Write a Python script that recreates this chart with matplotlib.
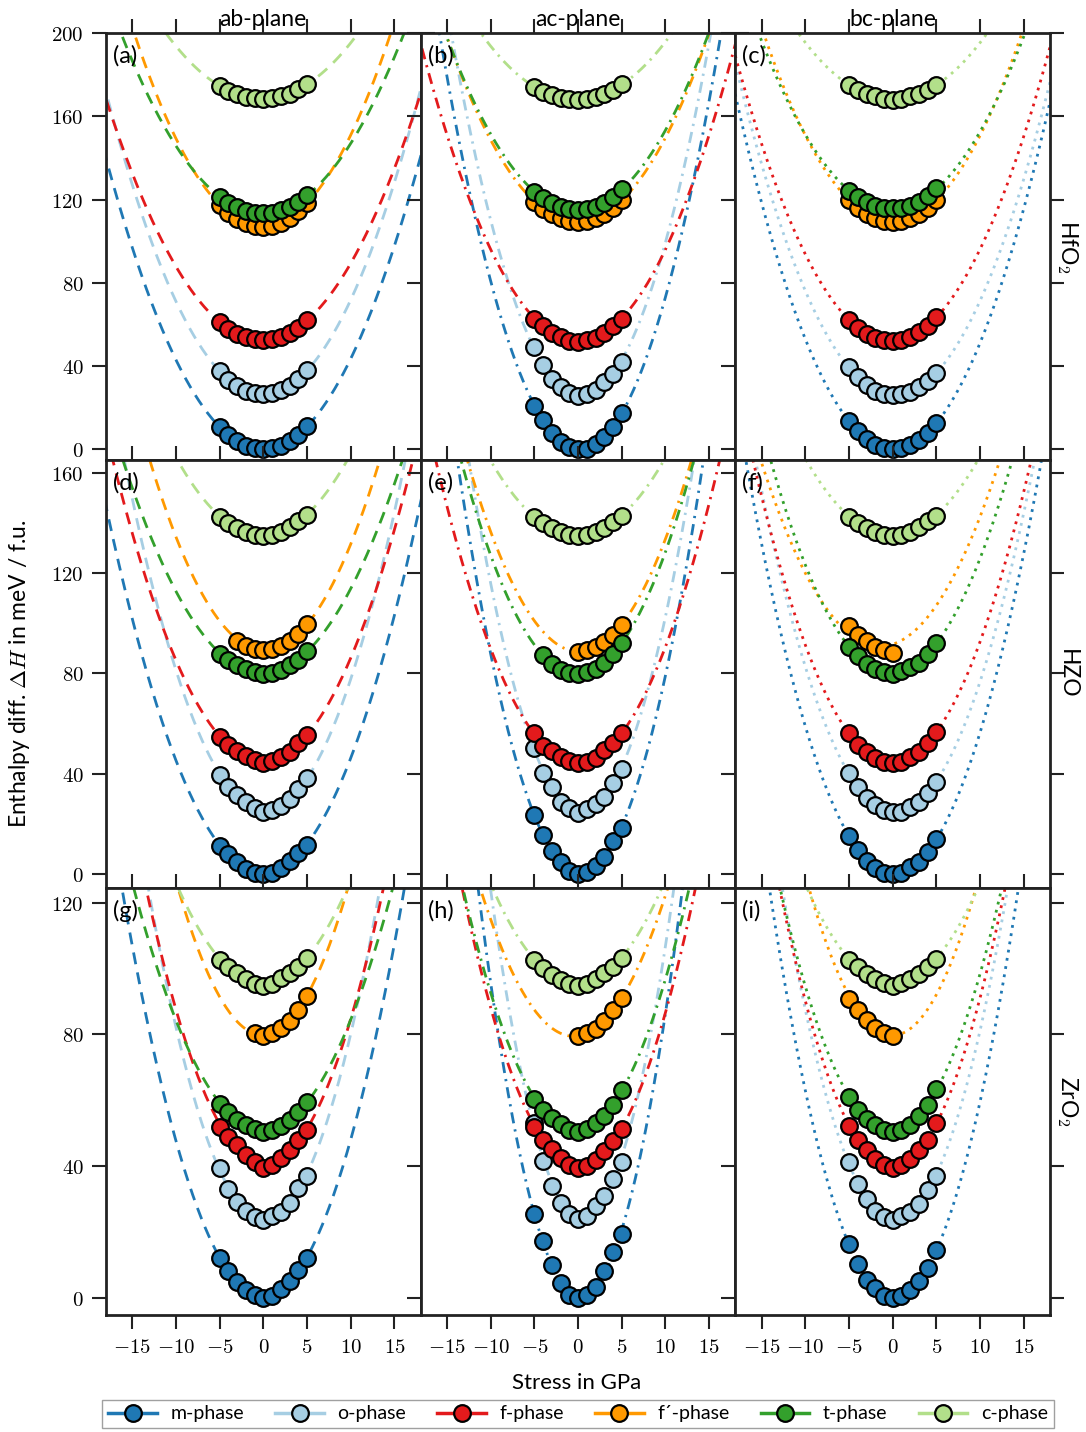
import numpy as np
import matplotlib
matplotlib.use("Agg")
import matplotlib.pyplot as plt
from matplotlib.lines import Line2D
from matplotlib.ticker import FuncFormatter

plt.rcParams['font.family'] = ['Lato', 'DejaVu Sans']
plt.rcParams['mathtext.fontset'] = 'cm'

# stress values of the computed points (GPa)
stress = [-5, -4, -3, -2, -1, 0, 1, 2, 3, 4, 5]

phases = ['m', 'o', 'f', "f'", 't', 'c']
phase_labels = ['m-phase', 'o-phase', 'f-phase', 'f\u00b4-phase', 't-phase', 'c-phase']
phase_colors = ['#1f78b4', '#a6cee3', '#e31a1c', '#ff9900', '#33a02c', '#b2df8a']

N = None
# enthalpy differences in meV / f.u., one dict per panel
hfo2_ab = {
    'm':  [10.6, 6.8, 3.8, 1.7, 0.4, 0.0, 0.4, 1.7, 3.9, 7.0, 11.0],
    'o':  [37.5, 33.4, 30.3, 28.2, 26.9, 26.4, 26.9, 28.3, 30.5, 33.6, 38.0],
    'f':  [61.0, 57.9, 55.5, 53.9, 52.8, 52.4, 52.8, 54.0, 55.8, 58.5, 62.0],
    "f'": [117.3, 113.6, 110.8, 108.8, 107.4, 107.0, 107.4, 108.9, 111.2, 114.3, 118.3],
    't':  [121.3, 118.4, 116.2, 114.7, 113.7, 113.4, 113.7, 114.8, 116.5, 118.9, 122.0],
    'c':  [174.5, 172.3, 170.6, 169.4, 168.7, 168.5, 168.8, 169.6, 170.9, 172.9, 175.5],
}
hfo2_ac = {
    'm':  [21.0, 14.3, 7.9, 3.6, 0.9, 0.0, 0.2, 2.5, 6.0, 10.5, 17.2],
    'o':  [49.2, 40.4, 34.0, 29.7, 26.8, 25.6, 26.4, 28.7, 32.4, 36.4, 42.0],
    'f':  [62.8, 59.1, 56.1, 54.0, 52.1, 51.6, 52.4, 53.7, 56.1, 59.1, 62.8],
    "f'": [118.9, 115.4, 112.8, 111.0, 109.8, 109.3, 109.6, 110.9, 112.9, 115.9, 119.7],
    't':  [123.7, 120.6, 118.2, 116.5, 115.4, 115.0, 115.3, 116.5, 118.5, 121.3, 125.0],
    'c':  [174.0, 171.8, 170.2, 169.0, 168.3, 168.0, 168.3, 169.1, 170.5, 172.5, 175.5],
}
hfo2_bc = {
    'm':  [13.5, 8.7, 4.9, 2.2, 0.5, 0.0, 0.5, 2.0, 4.5, 8.0, 12.5],
    'o':  [39.4, 34.5, 30.8, 28.2, 26.6, 26.0, 26.4, 27.6, 29.8, 32.8, 36.5],
    'f':  [62.0, 58.4, 55.6, 53.6, 52.4, 52.0, 52.5, 53.9, 56.2, 59.4, 63.5],
    "f'": [119.7, 116.0, 113.2, 111.1, 109.7, 109.3, 109.7, 111.1, 113.2, 116.0, 119.7],
    't':  [124.2, 121.1, 118.7, 117.0, 116.0, 115.7, 116.0, 117.1, 118.9, 121.6, 125.3],
    'c':  [175.0, 172.6, 170.8, 169.5, 168.5, 168.0, 168.5, 169.5, 170.8, 172.6, 175.0],
}
hzo_ab = {
    'm':  [11.0, 7.8, 4.8, 2.0, 0.5, 0.0, 0.4, 2.3, 5.0, 8.2, 11.5],
    'o':  [39.4, 34.7, 31.4, 28.8, 26.1, 24.8, 25.5, 27.1, 29.7, 33.7, 38.1],
    'f':  [54.4, 51.3, 49.1, 47.0, 45.4, 44.1, 45.1, 46.7, 48.7, 52.0, 55.3],
    "f'": [N, N, 92.8, 90.9, 89.8, 89.4, 89.8, 91.0, 92.8, 95.6, 99.6],
    't':  [87.6, 85.2, 83.2, 81.9, 80.5, 79.6, 80.1, 81.2, 83.2, 85.5, 88.9],
    'c':  [142.5, 140.0, 138.0, 136.4, 135.3, 134.9, 135.3, 136.5, 138.3, 140.6, 143.3],
}
hzo_ac = {
    'm':  [23.5, 15.5, 9.0, 4.8, 1.3, 0.0, 0.9, 3.1, 6.6, 12.9, 18.2],
    'o':  [50.4, 40.3, 34.5, 28.8, 26.1, 24.4, 25.7, 27.9, 30.8, 36.1, 41.7],
    'f':  [56.0, 50.9, 49.1, 46.7, 45.1, 44.1, 44.7, 46.3, 49.4, 52.0, 56.0],
    "f'": [N, N, N, N, N, 88.5, 89.2, 90.5, 92.5, 95.1, 99.1],
    't':  [N, 87.2, 83.8, 81.4, 80.1, 79.6, 80.5, 81.8, 84.1, 87.6, 92.1],
    'c':  [142.2, 139.8, 137.8, 136.3, 135.3, 134.9, 135.3, 136.4, 138.1, 140.3, 142.9],
}
hzo_bc = {
    'm':  [15.2, 9.7, 5.3, 2.3, 0.5, 0.0, 0.4, 2.7, 4.7, 8.6, 13.7],
    'o':  [40.1, 34.5, 30.1, 27.5, 25.5, 24.5, 24.8, 26.5, 28.8, 32.4, 36.7],
    'f':  [56.0, 51.3, 48.7, 46.4, 44.7, 44.1, 44.7, 46.7, 48.7, 52.3, 56.6],
    "f'": [98.8, 95.1, 92.9, 90.5, 89.2, 88.2, N, N, N, N, N],
    't':  [90.5, 86.8, 83.8, 81.8, 80.5, 79.9, 80.9, 82.5, 84.1, 87.8, 92.1],
    'c':  [142.5, 140.0, 138.0, 136.4, 135.3, 134.9, 135.3, 136.5, 138.3, 140.6, 142.9],
}
zro2_ab = {
    'm':  [12.1, 8.0, 4.7, 2.4, 0.9, 0.0, 0.6, 2.6, 5.0, 8.3, 12.1],
    'o':  [39.4, 33.0, 29.0, 26.5, 24.5, 23.7, 24.7, 26.2, 28.8, 33.3, 37.1],
    'f':  [51.9, 48.8, 46.5, 43.5, 41.1, 39.4, 40.4, 42.5, 44.8, 47.8, 51.1],
    "f'": [N, N, N, N, 80.3, 79.6, 80.3, 81.8, 84.2, 87.5, 91.8],
    't':  [59.0, 56.3, 54.1, 52.6, 51.3, 50.5, 51.1, 52.3, 54.1, 56.3, 59.4],
    'c':  [102.5, 100.5, 98.7, 96.9, 95.4, 94.6, 95.4, 97.2, 98.7, 100.5, 103.2],
}
zro2_ac = {
    'm':  [25.5, 17.1, 10.0, 4.5, 0.9, 0.0, 0.9, 3.4, 8.0, 13.8, 19.5],
    'o':  [53.0, 41.7, 34.0, 28.8, 25.5, 23.9, 24.9, 27.8, 31.0, 36.1, 41.1],
    'f':  [51.9, 48.0, 45.2, 42.5, 40.4, 39.4, 40.1, 41.9, 44.5, 47.5, 51.3],
    "f'": [N, N, N, N, N, 79.4, 80.5, 81.7, 84.0, 87.3, 91.1],
    't':  [60.4, 57.1, 54.6, 52.9, 51.1, 50.5, 51.3, 53.1, 55.1, 58.7, 63.2],
    'c':  [102.5, 100.2, 98.2, 96.5, 95.4, 94.8, 95.4, 96.9, 98.7, 100.5, 103.2],
}
zro2_bc = {
    'm':  [16.4, 10.3, 5.5, 2.9, 0.6, 0.0, 0.4, 2.4, 5.0, 9.0, 14.4],
    'o':  [41.1, 34.7, 30.0, 26.5, 24.5, 23.7, 24.7, 26.2, 28.6, 32.6, 36.9],
    'f':  [52.1, 47.8, 44.8, 42.2, 40.4, 39.4, 40.4, 42.2, 44.8, 48.0, 53.1],
    "f'": [90.8, 87.3, 84.3, 82.0, 80.5, 79.6, N, N, N, N, N],
    't':  [61.0, 56.9, 54.3, 52.6, 51.1, 50.5, 51.1, 52.6, 55.1, 58.7, 63.4],
    'c':  [102.5, 100.5, 98.5, 96.9, 95.7, 94.6, 95.7, 96.9, 98.5, 100.5, 103.0],
}

fprime_line_x = {(1, 0): [-12.6, 12.8], (1, 1): [-12.5, 12.8], (1, 2): [-15.0, 12.0],
                 (2, 2): [-7.4, -6.0, 1.7, 3.4, 4.9, 6.7]}
fprime_line_y = {(1, 0): [160.8, 159.0], (1, 1): [163.0, 163.0], (1, 2): [163.0, 163.0],
                 (2, 2): [106.0, 98.0, 81.2, 85.3, 90.6, 102.7]}

panels = [[hfo2_ab, hfo2_ac, hfo2_bc],
          [hzo_ab, hzo_ac, hzo_bc],
          [zro2_ab, zro2_ac, zro2_bc]]
materials = ['HfO$_2$', 'HZO', 'ZrO$_2$']
planes = ['ab-plane', 'ac-plane', 'bc-plane']
letters = 'abcdefghi'
row_ylims = [(-5.3, 200), (-5.5, 165), (-5.2, 124.6)]
row_yticks = [np.arange(0, 201, 40), np.arange(0, 161, 40), np.arange(0, 121, 40)]
line_styles = [(0, (4.3, 3.0)), (0, (4.0, 2.2, 0.8, 2.2)), (0, (1.0, 2.0))]

W, H = 1086, 1432
fig = plt.figure(figsize=(W / 100, H / 100), dpi=100)

left_px, top_px = 106, 33
col_w, row_h = 314.7, 427.3
tickfmt = FuncFormatter(lambda v, p: r'$%d$' % v)
xfit = np.linspace(-20, 20, 400)

for r in range(3):
    for c in range(3):
        x0 = (left_px + c * col_w) / W
        y0 = 1 - (top_px + (r + 1) * row_h) / H
        ax = fig.add_axes([x0, y0, col_w / W, row_h / H])
        data = panels[r][c]
        for k, ph in enumerate(phases):
            y = np.array([np.nan if v is None else v for v in data[ph]], dtype=float)
            x = np.array(stress, dtype=float)
            ok = np.isfinite(y)
            xs, ys = x[ok], y[ok]
            if ph == "f'" and (r, c) in fprime_line_x:
                xs = np.concatenate([xs, fprime_line_x[(r, c)]])
                ys = np.concatenate([ys, fprime_line_y[(r, c)]])
            coef = np.polyfit(xs, ys, 2)
            ax.plot(xfit, np.polyval(coef, xfit), color=phase_colors[k], lw=2,
                    linestyle=line_styles[c], zorder=2)
        for k, ph in enumerate(phases):
            y = np.array([np.nan if v is None else v for v in data[ph]], dtype=float)
            ax.plot(stress, y, 'o', ms=12, mfc=phase_colors[k], mec='black',
                    mew=1.6, zorder=3)
        ax.set_xlim(-18, 18)
        ax.set_ylim(*row_ylims[r])
        ax.set_xticks(np.arange(-15, 16, 5))
        ax.set_yticks(row_yticks[r])
        ax.xaxis.set_major_formatter(tickfmt)
        ax.yaxis.set_major_formatter(tickfmt)
        ax.tick_params(direction='out', length=10, width=1.5, top=True, right=True,
                       labelsize=15, color='#222222', pad=6,
                       labelbottom=(r == 2), labelleft=(c == 0))
        for s in ax.spines.values():
            s.set_linewidth(2)
            s.set_color('#222222')
        ax.text(0.022, 0.972, '(%s)' % letters[3 * r + c], transform=ax.transAxes,
                ha='left', va='top', fontsize=17)
        if r == 0:
            ax.set_title(planes[c], fontsize=16.5, pad=5, y=1.0)
        if c == 2:
            ax.text(1.055, 0.5, materials[r], transform=ax.transAxes, rotation=270,
                    ha='center', va='center', fontsize=16.5)

fig.text(20 / W, 1 - 674 / H, r'Enthalpy diff. $\Delta H$ in meV / f.u.', rotation=90,
         ha='center', va='center', fontsize=16.5)
fig.text(577 / W, 1 - 1383 / H, 'Stress in GPa', ha='center', va='center', fontsize=16)

handles = [Line2D([], [], color=phase_colors[k], lw=2.5, marker='o', ms=12,
                  mfc=phase_colors[k], mec='black', mew=1.6) for k in range(6)]
fig.legend(handles, phase_labels, loc='center', bbox_to_anchor=(578 / W, 1 - 1414 / H),
           ncol=6, fontsize=14, frameon=True, fancybox=False, edgecolor='#888888',
           handlelength=2.5, handletextpad=0.7, columnspacing=1.6, borderpad=0.3,
           borderaxespad=0)

fig.savefig('out.png', dpi=100)
